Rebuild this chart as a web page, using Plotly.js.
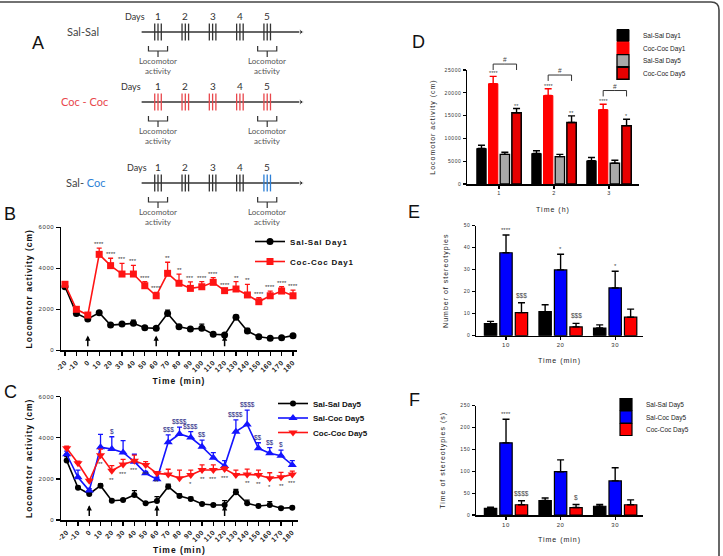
<!DOCTYPE html>
<html>
<head>
<meta charset="utf-8">
<script src="https://cdn.plot.ly/plotly-3.0.1.min.js"></script>
<style>
  html, body { margin:0; padding:0; background:#fff; }
  #chart { width:723px; height:556px; }
  g[class^="g-x"][class$="title"] text, g[class^="g-y"][class$="title"] text { letter-spacing: 1px; }
  g[class$="tick"] > text { letter-spacing: 0.6px; }
  .legendtext { letter-spacing: 0.8px; }
</style>
</head>
<body>
<div id="chart"></div>
<script>
// ---------------- DATA ----------------
const timeMin = [-20,-10,0,10,20,30,40,50,60,70,80,90,100,110,120,130,140,150,160,170,180];
const arrowTimes = [0, 60, 120];

// Panel B (Day 1)
const salSalDay1    = [3100,1800,1530,1830,1230,1280,1315,1100,1070,1800,1150,1040,1070,780,750,1610,940,665,585,615,715];
const salSalDay1Err = [80,90,90,80,80,60,160,80,80,160,70,80,210,90,60,110,130,70,60,60,60];
const cocCocDay1    = [3220,2000,1720,4680,4130,3720,3720,3150,2660,3755,3270,3020,3100,3315,2910,2990,2700,2370,2660,2890,2660];
const cocCocDay1Err = [80,80,90,300,360,520,420,200,170,540,450,320,250,230,100,360,520,200,230,210,280];
const sigB = ["","","","****","****","***","***","****","****","**","**","***","****","****","****","**","**","****","****","****","****"];

// Panel C (Day 5)
const salSalDay5    = [2890,1570,1265,1670,940,970,1215,810,925,1620,1170,1020,780,730,730,1350,810,680,730,570,600];
const salSalDay5Err = [190,80,80,90,60,60,210,60,210,120,100,90,60,60,210,140,160,80,160,70,60];
const salCocDay5    = [3200,2080,1430,3540,3450,3290,2840,2270,1980,3780,4185,4010,3570,3030,2630,4300,4650,3490,3250,3130,2680];
const salCocDay5Err = [150,350,100,630,600,570,360,100,100,360,330,290,320,250,260,570,700,270,270,270,210];
const cocCocDay5    = [3490,2760,1910,3150,2400,2700,2880,2680,2270,2220,2030,2190,2430,2430,2480,2190,2220,2190,2030,2080,2220];
const cocCocDay5Err = [100,100,80,300,250,250,280,160,80,250,400,240,250,250,100,240,260,240,270,240,160];
const dollarC = ["","","","","$","","","","","$$$","$$$$","$$$$","$$","","","$$$$","$$$$","$$","$$","$",""];
const starC   = ["","","","**","**","***","***","***","**","","","*","**","***","***","","**","**","*","**","***"];

// Panel D (per hour)
const hourBins = [1,2,3];
const hourLabels = ['1','2','3'];
const dSalSalD1 = [7800,6700,5100];    const dSalSalD1Err = [700,600,700];
const dCocCocD1 = [22000,19400,16300]; const dCocCocD1Err = [1600,1500,1200];
const dSalSalD5 = [6500,6000,4550];    const dSalSalD5Err = [450,500,650];
const dCocCocD5 = [15600,13500,12800]; const dCocCocD5Err = [950,1450,1400];
const sigDCoc1 = ['****','****','****'];
const sigDCoc5 = ['**','**','*'];
const bracketD = [26300,23900,20500];

// Panel E (number of stereotypies)
const minBins = [1,2,3];
const minLabels = ['10','20','30'];
const eSalSal = [5.5,10.9,3.5];  const eSalSalErr = [1.0,3.2,1.4];
const eSalCoc = [37.7,29.9,21.7]; const eSalCocErr = [8.1,7.1,7.6];
const eCocCoc = [10.5,4.0,8.4];  const eCocCocErr = [4.5,1.6,3.7];
const sigESalCoc = ['****','*','*'];
const sigECocCoc = ['$$$','$$$',''];

// Panel F (time of stereotypies)
const fSalSal = [15,33,20];   const fSalSalErr = [3,6,4];
const fSalCoc = [165,99,78];  const fSalCocErr = [54,27,30];
const fCocCoc = [23.5,17,23.5]; const fCocCocErr = [9,7,11];
const sigFSalCoc = ['****','',''];
const sigFCocCoc = ['$$$$','$',''];

// Panel A (protocol schematic)
const days = [1,2,3,4,5];
const injOffsets = [-0.12, 0, 0.12];
const recordedDays = [1,5];
const protocolNames = ['Sal-Sal','Coc - Coc','Sal- Coc'];

// ---------------- HELPERS ----------------
const W = 723, H = 556;
const px = v => v / W;
const py = v => 1 - v / H;
const FONT = 'Liberation Sans, Arial, Helvetica, sans-serif';
const BARGAP = 0.15, BARGROUPGAP = 0.2;
const zeros = n => new Array(n).fill(0);
const barX = (g, i, n) => { const w = 1 - BARGAP; return g - w/2 + (i + 0.5) * w / n; };

const data = [];
const annotations = [];

// ---------------- PANEL B ----------------
function lineTrace(x, y, err, name, color, symbol, size, xa, ya, leg) {
  return {
    type:'scatter', mode:'lines+markers', x, y, name,
    line:{color, width:1.6},
    marker:{symbol, size, color},
    error_y:{type:'data', array:err, arrayminus:zeros(err.length), symmetric:false, color, thickness:1.3, width:2.5},
    xaxis:xa, yaxis:ya, legend:leg, cliponaxis:false
  };
}
data.push(lineTrace(timeMin, salSalDay1, salSalDay1Err, 'Sal-Sal Day1', '#000000', 'circle', 7, 'x', 'y', 'legend'));
data.push(lineTrace(timeMin, cocCocDay1, cocCocDay1Err, 'Coc-Coc Day1', '#ff1414', 'square', 7, 'x', 'y', 'legend'));
sigB.forEach((s, i) => { if (s) annotations.push({x:timeMin[i], y:cocCocDay1[i]+cocCocDay1Err[i], xref:'x', yref:'y', text:s, showarrow:false, yanchor:'bottom', yshift:-1, font:{family:FONT, size:6, color:'#333'}}); });

// ---------------- PANEL C ----------------
data.push(lineTrace(timeMin, salSalDay5, salSalDay5Err, 'Sal-Sal Day5', '#000000', 'circle', 6, 'x2', 'y2', 'legend2'));
data.push(lineTrace(timeMin, salCocDay5, salCocDay5Err, 'Sal-Coc Day5', '#1414ff', 'triangle-up', 8, 'x2', 'y2', 'legend2'));
data.push(lineTrace(timeMin, cocCocDay5, cocCocDay5Err, 'Coc-Coc Day5', '#ff1414', 'triangle-down', 8, 'x2', 'y2', 'legend2'));
dollarC.forEach((s, i) => { if (s) annotations.push({x:timeMin[i], y:salCocDay5[i]+salCocDay5Err[i], xref:'x2', yref:'y2', text:s, showarrow:false, yanchor:'bottom', yshift:0, font:{family:FONT, size:6.5, color:'#1a1a80'}}); });
starC.forEach((s, i) => { if (s) annotations.push({x:timeMin[i], y:cocCocDay5[i], xref:'x2', yref:'y2', text:s, showarrow:false, yanchor:'top', yshift:-4, font:{family:FONT, size:6, color:'#333'}}); });

// arrows for B and C
[['x','y'],['x2','y2']].forEach(([xa, ya]) => {
  arrowTimes.forEach(t => annotations.push({x:t, y:720, ax:t, ay:120, xref:xa, yref:ya, axref:xa, ayref:ya, text:'', showarrow:true, arrowhead:2, arrowsize:0.7, arrowwidth:1.5, arrowcolor:'#000'}));
});

// ---------------- PANEL D ----------------
function barTrace(x, y, err, name, fill, lineColor, lineW, errColor, xa, ya, leg, showlegend) {
  return {
    type:'bar', x, y, name,
    marker:{color:fill, line:{color:lineColor, width:lineW}},
    error_y:{type:'data', array:err, arrayminus:zeros(err.length), symmetric:false, color:errColor, thickness:1.4, width:3.5},
    xaxis:xa, yaxis:ya, legend:leg, showlegend
  };
}
data.push(barTrace(hourBins, dSalSalD1, dSalSalD1Err, 'Sal-Sal Day1', '#000000', '#000000', 1, '#000', 'x3', 'y3', 'legend3', true));
data.push(barTrace(hourBins, dCocCocD1, dCocCocD1Err, 'Coc-Coc Day1', '#ff0000', '#ff0000', 1, '#ff0000', 'x3', 'y3', 'legend3', true));
data.push(barTrace(hourBins, dSalSalD5, dSalSalD5Err, 'Sal-Sal Day5', '#a8a8a8', '#000000', 1.3, '#000', 'x3', 'y3', 'legend3', true));
data.push(barTrace(hourBins, dCocCocD5, dCocCocD5Err, 'Coc-Coc Day5', '#e60000', '#000000', 1.5, '#000', 'x3', 'y3', 'legend3', true));
hourBins.forEach((g, k) => {
  annotations.push({x:barX(g,1,4), y:dCocCocD1[k]+dCocCocD1Err[k], xref:'x3', yref:'y3', text:sigDCoc1[k], showarrow:false, yanchor:'bottom', yshift:-2, font:{family:FONT, size:5.5, color:'#444'}});
  annotations.push({x:barX(g,3,4), y:dCocCocD5[k]+dCocCocD5Err[k], xref:'x3', yref:'y3', text:sigDCoc5[k], showarrow:false, yanchor:'bottom', yshift:-2, font:{family:FONT, size:5.5, color:'#444'}});
  const xl = barX(g,1,4), xr = barX(g,3,4), h = bracketD[k], drop = 1300;
  data.push({type:'scatter', mode:'lines+text', x:[xl, xl, (xl+xr)/2, xr, xr], y:[h-drop, h, h, h, h-drop],
    text:['','','#','',''], textposition:'top center', textfont:{family:FONT, size:6.5, color:'#444'},
    line:{color:'#333', width:1}, xaxis:'x7', yaxis:'y7', showlegend:false, hoverinfo:'skip', cliponaxis:false});
});

// ---------------- PANEL E ----------------
data.push(barTrace(minBins, eSalSal, eSalSalErr, 'Sal-Sal Day5', '#000000', '#000000', 1.2, '#000', 'x4', 'y4', 'legend4', false));
data.push(barTrace(minBins, eSalCoc, eSalCocErr, 'Sal-Coc Day5', '#0000ff', '#000000', 1.2, '#000', 'x4', 'y4', 'legend4', false));
data.push(barTrace(minBins, eCocCoc, eCocCocErr, 'Coc-Coc Day5', '#ff0000', '#000000', 1.2, '#000', 'x4', 'y4', 'legend4', false));
minBins.forEach((g, k) => {
  if (sigESalCoc[k]) annotations.push({x:barX(g,1,3), y:eSalCoc[k]+eSalCocErr[k], xref:'x4', yref:'y4', text:sigESalCoc[k], showarrow:false, yanchor:'bottom', yshift:0, font:{family:FONT, size:6, color:'#444'}});
  if (sigECocCoc[k]) annotations.push({x:barX(g,2,3), y:eCocCoc[k]+eCocCocErr[k], xref:'x4', yref:'y4', text:sigECocCoc[k], showarrow:false, yanchor:'bottom', yshift:2, font:{family:FONT, size:6.5, color:'#444'}});
});

// ---------------- PANEL F ----------------
data.push(barTrace(minBins, fSalSal, fSalSalErr, 'Sal-Sal Day5', '#000000', '#000000', 1.2, '#000', 'x5', 'y5', 'legend4', true));
data.push(barTrace(minBins, fSalCoc, fSalCocErr, 'Sal-Coc Day5', '#0000ff', '#000000', 1.2, '#000', 'x5', 'y5', 'legend4', true));
data.push(barTrace(minBins, fCocCoc, fCocCocErr, 'Coc-Coc Day5', '#ff0000', '#000000', 1.2, '#000', 'x5', 'y5', 'legend4', true));
minBins.forEach((g, k) => {
  if (sigFSalCoc[k]) annotations.push({x:barX(g,1,3), y:fSalCoc[k]+fSalCocErr[k], xref:'x5', yref:'y5', text:sigFSalCoc[k], showarrow:false, yanchor:'bottom', yshift:0, font:{family:FONT, size:6, color:'#444'}});
  if (sigFCocCoc[k]) annotations.push({x:barX(g,2,3), y:fCocCoc[k]+fCocCocErr[k], xref:'x5', yref:'y5', text:sigFCocCoc[k], showarrow:false, yanchor:'bottom', yshift:2, font:{family:FONT, size:6.5, color:'#444'}});
});

// ---------------- PANEL A (schematic) ----------------
const rowY = [32, 102, 183];
const rowLabelX = [-1.76, -1.70, -1.65];
const daysLabelX = [0.16, 0.01, 0.23];
const RED = '#e8474c', BLUE = '#2c7fd6', INK = '#333';
const rowTickColors = [
  days.map(() => INK),
  days.map(() => RED),
  days.map(d => d === 5 ? BLUE : INK)
];
const rowLabelHtml = [
  protocolNames[0],
  '<span style="color:' + RED + '">' + protocolNames[1] + '</span>',
  'Sal- <span style="color:' + BLUE + '">Coc</span>'
];
const AF = 'Lato, Open Sans, sans-serif';
rowY.forEach((Y, r) => {
  data.push({type:'scatter', mode:'lines+markers', x:[0.4, 6.24], y:[Y, Y], line:{color:INK, width:1.5},
    marker:{symbol:'triangle-right', size:[1,5], opacity:[0,1], color:INK}, xaxis:'x6', yaxis:'y6', showlegend:false, hoverinfo:'skip'});
  const tx = [], ty = [], tc = [];
  days.forEach((d, di) => injOffsets.forEach(o => { tx.push(d + o); ty.push(Y); tc.push(rowTickColors[r][di]); }));
  data.push({type:'scatter', mode:'markers', x:tx, y:ty, marker:{symbol:'line-ns', size:12, line:{width:1.3, color:tc}},
    xaxis:'x6', yaxis:'y6', showlegend:false, hoverinfo:'skip'});
  const bx = [], by = [];
  recordedDays.forEach(d => {
    bx.push(d-0.35, d-0.35, d+0.35, d+0.35, null, d, d, null);
    by.push(Y+14, Y+19, Y+19, Y+14, null, Y+19, Y+25, null);
    annotations.push({x:d, y:Y+34, xref:'x6', yref:'y6', text:'Locomotor<br>activity', showarrow:false, font:{family:AF, size:8, color:'#555'}});
  });
  data.push({type:'scatter', mode:'lines', x:bx, y:by, line:{color:INK, width:1.2}, xaxis:'x6', yaxis:'y6', showlegend:false, hoverinfo:'skip'});
  annotations.push({x:daysLabelX[r], y:Y-16, xref:'x6', yref:'y6', text:'Days', showarrow:false, font:{family:AF, size:9, color:'#333'}});
  days.forEach(d => annotations.push({x:d, y:Y-16, xref:'x6', yref:'y6', text:String(d), showarrow:false, font:{family:AF, size:10, color:'#333'}}));
  annotations.push({x:rowLabelX[r], y:Y-1, xref:'x6', yref:'y6', text:rowLabelHtml[r], showarrow:false, font:{family:AF, size:11, color:'#444'}});
});

// panel letters
[['A',38,43],['B',10,214],['C',10,392],['D',418,42],['E',414,212],['F',414,400]].forEach(([t,x,y]) =>
  annotations.push({x:px(x), y:py(y), xref:'paper', yref:'paper', text:t, showarrow:false, xanchor:'center', yanchor:'middle', font:{family:FONT, size:18, color:'#111'}}));

// ---------------- LAYOUT ----------------
const axBase = {showline:true, linecolor:'#000', linewidth:1.5, ticks:'outside', tickcolor:'#000', tickwidth:1.2, ticklen:4, showgrid:false, zeroline:false, fixedrange:true};
const boldTitle = (text, standoff) => ({text, font:{family:FONT, size:8.5, weight:'bold', color:'#111'}, standoff});
const thinTitle = (text, standoff) => ({text, font:{family:FONT, size:7, color:'#222'}, standoff});
const dRange = [0, 25000];
const dTopPx = 70, dBottomPx = 184, bracketTopPx = 55;

const layout = {
  width:W, height:H, margin:{l:0, r:0, t:0, b:0},
  paper_bgcolor:'#ffffff', plot_bgcolor:'rgba(0,0,0,0)',
  barmode:'group', bargap:BARGAP, bargroupgap:BARGROUPGAP,
  font:{family:FONT, color:'#111'},
  hovermode:false,
  // B
  xaxis:Object.assign({}, axBase, {domain:[px(61), px(297)], range:[-23.5,183.5], anchor:'y', tickvals:timeMin, ticktext:timeMin.map(String), tickangle:-45,
    tickfont:{family:FONT, size:7, weight:'bold', color:'#222'}, title:boldTitle('Time (min)', 5)}),
  yaxis:Object.assign({}, axBase, {domain:[py(350.3), py(227.3)], range:[0,6000], anchor:'x', tickvals:[0,2000,4000,6000],
    tickfont:{family:FONT, size:6, color:'#333'}, title:boldTitle('Locomotor activity (cm)', 4)}),
  // C
  xaxis2:Object.assign({}, axBase, {domain:[px(61), px(297.7)], range:[-25.05,184.8], anchor:'y2', tickvals:timeMin, ticktext:timeMin.map(String), tickangle:-45,
    tickfont:{family:FONT, size:7, weight:'bold', color:'#222'}, title:boldTitle('Time (min)', 5)}),
  yaxis2:Object.assign({}, axBase, {domain:[py(520), py(396.7)], range:[0,6000], anchor:'x2', tickvals:[0,2000,4000,6000],
    tickfont:{family:FONT, size:6, color:'#333'}, title:boldTitle('Locomotor activity (cm)', 4)}),
  // D
  xaxis3:Object.assign({}, axBase, {domain:[px(467), px(639)], range:[0.418,3.545], anchor:'y3', tickvals:hourBins, ticktext:hourLabels, ticklen:3,
    tickfont:{family:FONT, size:5.5, color:'#333'}, title:thinTitle('Time (h)', 12)}),
  yaxis3:Object.assign({}, axBase, {domain:[py(dBottomPx), py(dTopPx)], range:dRange, anchor:'x3', dtick:5000, ticklen:3, tickformat:'d',
    tickfont:{family:FONT, size:5, color:'#333'}, title:thinTitle('Locomotor activity (cm)', 8)}),
  // E
  xaxis4:Object.assign({}, axBase, {domain:[px(476), px(643)], range:[0.45,3.51], anchor:'y4', tickvals:minBins, ticktext:minLabels, ticklen:3,
    tickfont:{family:FONT, size:6, color:'#333'}, title:thinTitle('Time (min)', 10)}),
  yaxis4:Object.assign({}, axBase, {domain:[py(335.7), py(225.7)], range:[0,50], anchor:'x4', dtick:10, ticklen:3,
    tickfont:{family:FONT, size:5, color:'#333'}, title:thinTitle('Number of stereotypies', 14)}),
  // F
  xaxis5:Object.assign({}, axBase, {domain:[px(476), px(643)], range:[0.45,3.51], anchor:'y5', tickvals:minBins, ticktext:minLabels, ticklen:3,
    tickfont:{family:FONT, size:6, color:'#333'}, title:thinTitle('Time (min)', 10)}),
  yaxis5:Object.assign({}, axBase, {domain:[py(515), py(405.7)], range:[0,250], anchor:'x5', dtick:50, ticklen:3,
    tickfont:{family:FONT, size:5, color:'#333'}, title:thinTitle('Time of stereotypies (s)', 14)}),
  // A (schematic)
  xaxis6:{domain:[0, px(360)], range:[-4.788, 8.399], anchor:'y6', visible:false, fixedrange:true},
  yaxis6:{domain:[py(230), 1], range:[230, 0], anchor:'x6', visible:false, fixedrange:true},
  // D brackets overlay (same scale as D, taller)
  xaxis7:{domain:[px(467), px(639)], range:[0.418,3.545], anchor:'y7', visible:false, fixedrange:true},
  yaxis7:{domain:[py(dBottomPx), py(bracketTopPx)], range:[0, dRange[1]*(dBottomPx-bracketTopPx)/(dBottomPx-dTopPx)], anchor:'x7', visible:false, fixedrange:true},
  legend:{x:px(250), y:py(227), xanchor:'left', yanchor:'top', bgcolor:'rgba(0,0,0,0)', font:{family:FONT, size:8, weight:'bold', color:'#111'}, itemwidth:30, traceorder:'normal'},
  legend2:{x:px(273), y:py(389), xanchor:'left', yanchor:'top', bgcolor:'rgba(0,0,0,0)', font:{family:FONT, size:8, weight:'bold', color:'#111'}, itemwidth:30, traceorder:'normal'},
  legend3:{x:px(603), y:py(21), xanchor:'left', yanchor:'top', bgcolor:'rgba(0,0,0,0)', font:{family:FONT, size:6.5, color:'#222'}, itemwidth:30, traceorder:'normal'},
  legend4:{x:px(606), y:py(390), xanchor:'left', yanchor:'top', bgcolor:'rgba(0,0,0,0)', font:{family:FONT, size:6.5, color:'#222'}, itemwidth:30, traceorder:'normal'},
  annotations,
  shapes:[{type:'path', xref:'paper', yref:'paper',
    path:`M 0,${py(2)} L ${px(711)},${py(2)} Q ${px(719)},${py(2)} ${px(719)},${py(10)} L ${px(719)},0`,
    line:{color:'#444', width:1.6}}]
};

function tightenLegend(gd, id, spacing) {
  const items = gd.querySelectorAll('g.' + id + ' g.traces');
  let y0 = null;
  items.forEach((el, i) => {
    const t = el.getAttribute('transform') || '';
    const m = /translate\(\s*([-\d.e]+)[ ,]+([-\d.e]+)\s*\)/.exec(t);
    if (!m) return;
    const x = parseFloat(m[1]), y = parseFloat(m[2]);
    if (y0 === null) y0 = y;
    el.setAttribute('transform', 'translate(' + x + ',' + (y0 + i * spacing) + ')');
  });
}

Plotly.newPlot('chart', data, layout, {staticPlot:true, displayModeBar:false}).then(gd => {
  tightenLegend(gd, 'legend', 20);
  tightenLegend(gd, 'legend2', 14.5);
  tightenLegend(gd, 'legend3', 12.6);
  tightenLegend(gd, 'legend4', 12.5);
});
</script>
</body>
</html>
